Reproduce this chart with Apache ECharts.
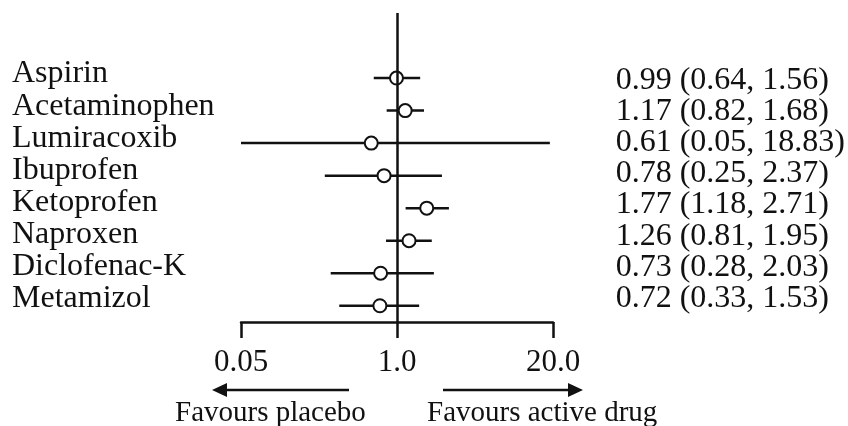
<!DOCTYPE html>
<html>
<head>
<meta charset="utf-8">
<script src="https://cdn.jsdelivr.net/npm/echarts@6/dist/echarts.min.js"></script>
<style>
html, body { margin: 0; padding: 0; background: #fff; }
#forest { width: 848px; height: 426px; }
</style>
</head>
<body>
<div id="forest"></div>
<script>
// odds ratio with 95% CI per drug
var drugs = ['Aspirin', 'Acetaminophen', 'Lumiracoxib', 'Ibuprofen', 'Ketoprofen', 'Naproxen', 'Diclofenac-K', 'Metamizol'];
var estimate = [0.99, 1.17, 0.61, 0.78, 1.77, 1.26, 0.73, 0.72];
var lower = [0.64, 0.82, 0.05, 0.25, 1.18, 0.81, 0.28, 0.33];
var upper = [1.56, 1.68, 18.83, 2.37, 2.71, 1.95, 2.03, 1.53];
var tickValues = [0.05, 1, 20];
var tickLabels = ['0.05', '1.0', '20.0'];

var serif = 'Liberation Serif';
var ink = '#111';

var ciText = drugs.map(function (d, i) {
    return estimate[i].toFixed(2) + ' (' + lower[i].toFixed(2) + ', ' + upper[i].toFixed(2) + ')';
});
var ciData = drugs.map(function (d, i) { return [lower[i], upper[i], i + 1]; });
var pointData = drugs.map(function (d, i) { return [estimate[i], i + 1]; });

var chart = echarts.init(document.getElementById('forest'));
var option = {
    animation: false,
    grid: [
        { left: 241, right: 295, top: 13, bottom: 104 },     // marks
        { left: 241, right: 295, top: 58, height: 257 },     // drug names
        { left: 241, right: 295, top: 65, height: 249 }      // OR (CI) text
    ],
    xAxis: [
        {
            type: 'log', logBase: 10, min: 0.05, max: 20, gridIndex: 0,
            axisLine: { onZero: false, lineStyle: { color: ink, width: 2.5 } },
            axisTick: { customValues: tickValues, length: 16, lineStyle: { color: ink, width: 2.5 } },
            axisLabel: {
                customValues: tickValues, margin: 25, color: ink,
                fontFamily: serif, fontSize: 31,
                formatter: function (v) {
                    for (var i = 0; i < tickValues.length; i++) {
                        if (Math.abs(v - tickValues[i]) < 1e-6 * tickValues[i] + 1e-9) return tickLabels[i];
                    }
                    return '';
                }
            },
            splitLine: { show: false },
            minorTick: { show: false }
        },
        { type: 'value', gridIndex: 1, show: false },
        { type: 'value', gridIndex: 2, show: false }
    ],
    yAxis: [
        { type: 'value', gridIndex: 0, inverse: true, min: -1, max: 8.5, show: false },
        {
            type: 'category', gridIndex: 1, inverse: true, data: drugs,
            axisLine: { show: false }, axisTick: { show: false },
            axisLabel: { interval: 0, align: 'left', margin: 229, color: ink, fontFamily: serif, fontSize: 32 }
        },
        {
            type: 'category', gridIndex: 2, inverse: true, position: 'right', data: ciText,
            axisLine: { show: false }, axisTick: { show: false },
            axisLabel: { interval: 0, align: 'left', margin: 63, color: ink, fontFamily: serif, fontSize: 32 }
        }
    ],
    series: [
        {
            type: 'custom',
            xAxisIndex: 0, yAxisIndex: 0,
            encode: { x: [0, 1], y: 2 },
            data: ciData,
            renderItem: function (params, api) {
                var a = api.coord([api.value(0), api.value(2)]);
                var b = api.coord([api.value(1), api.value(2)]);
                return {
                    type: 'line',
                    shape: { x1: a[0], y1: a[1], x2: b[0], y2: b[1] },
                    style: { stroke: ink, lineWidth: 2.5 }
                };
            },
            z: 2
        },
        {
            type: 'scatter',
            xAxisIndex: 0, yAxisIndex: 0,
            data: pointData,
            symbol: 'circle',
            symbolSize: 13,
            itemStyle: { color: '#fff', borderColor: ink, borderWidth: 2, opacity: 1 },
            z: 3
        },
        {
            // line of no effect
            type: 'line',
            xAxisIndex: 0, yAxisIndex: 0,
            data: [],
            markLine: {
                silent: true,
                symbol: ['none', 'none'],
                label: { show: false },
                lineStyle: { color: ink, width: 2.5, type: 'solid' },
                data: [{ xAxis: 1 }]
            },
            z: 4
        }
    ],
    graphic: [
        { type: 'line', shape: { x1: 349, y1: 390, x2: 222, y2: 390 }, style: { stroke: ink, lineWidth: 2.5 } },
        { type: 'polygon', shape: { points: [[212, 390], [227, 383], [227, 397]] }, style: { fill: ink } },
        { type: 'line', shape: { x1: 443, y1: 390, x2: 570, y2: 390 }, style: { stroke: ink, lineWidth: 2.5 } },
        { type: 'polygon', shape: { points: [[583, 390], [568, 383], [568, 397]] }, style: { fill: ink } },
        { type: 'text', x: 175, y: 413, style: { text: 'Favours placebo', fontFamily: serif, fontSize: 29, fill: ink, verticalAlign: 'middle' } },
        { type: 'text', x: 427, y: 413, style: { text: 'Favours active drug', fontFamily: serif, fontSize: 29, fill: ink, verticalAlign: 'middle' } }
    ]
};
chart.setOption(option);
</script>
</body>
</html>
